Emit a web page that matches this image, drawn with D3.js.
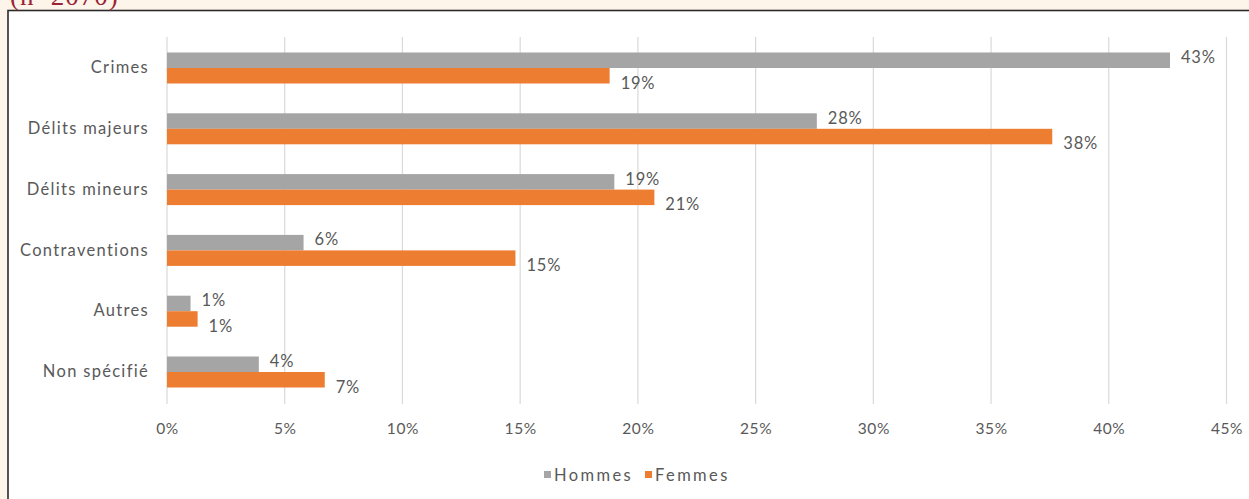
<!DOCTYPE html>
<html>
<head>
<meta charset="utf-8">
<script src="https://cdn.jsdelivr.net/npm/d3@7"></script>
<style>
  html, body { margin: 0; padding: 0; background: #fdf5ea; }
  svg { display: block; }
</style>
</head>
<body>
<svg id="chart" width="1249" height="499"></svg>
<script>
// Répartition des infractions par sexe
const categories = ["Crimes", "Délits majeurs", "Délits mineurs", "Contraventions", "Autres", "Non spécifié"];
const seriesNames = ["Hommes", "Femmes"];
const hommes = [42.6, 27.6, 19.0, 5.8, 1.0, 3.9];
const femmes = [18.8, 37.6, 20.7, 14.8, 1.3, 6.7];
const tickValues = [0, 5, 10, 15, 20, 25, 30, 35, 40, 45];
const subtitle = "(n=2070)";

const colors = { Hommes: "#a5a5a5", Femmes: "#ed7d31" };
const font = "Lato, 'Open Sans', sans-serif";
const textColor = "#595959";

const svg = d3.select("#chart");
const W = 1249, H = 499;

// frame
svg.append("rect").attr("x", 8).attr("y", 10.5).attr("width", W).attr("height", H)
  .attr("fill", "#ffffff").attr("stroke", "#2b2b2b").attr("stroke-width", 1.6);

svg.append("text").attr("x", 10).attr("y", 5)
  .attr("font-family", "'Liberation Serif', 'DejaVu Serif', serif")
  .attr("font-size", 27).attr("letter-spacing", 1).attr("fill", "#9b2335")
  .text(subtitle);

const x = d3.scaleLinear().domain([0, 45]).range([167, 1226.5]);
const y = d3.scaleBand().domain(categories).range([37.6, 402.4])
  .paddingInner(0.49).paddingOuter(0.245);
const ySub = d3.scaleBand().domain(seriesNames).range([0, y.bandwidth()]);

// gridlines
svg.append("g").selectAll("line").data(tickValues).join("line")
  .attr("x1", d => x(d)).attr("x2", d => x(d))
  .attr("y1", 37).attr("y2", 404)
  .attr("stroke", "#d9d9d9").attr("stroke-width", 1.2);

// x axis tick labels
const xAxis = d3.axisBottom(x).tickValues(tickValues).tickSize(0).tickFormat(d => d + "%");
const gx = svg.append("g").attr("transform", "translate(0,420)").call(xAxis);
gx.select(".domain").remove();
gx.selectAll("text").attr("font-family", font).attr("font-size", 15.5)
  .attr("letter-spacing", 0.6).attr("fill", textColor);

// y axis labels
const yAxis = d3.axisLeft(y).tickSize(0).tickPadding(18);
const gy = svg.append("g").attr("transform", "translate(167,0)").call(yAxis);
gy.select(".domain").remove();
gy.selectAll("text").attr("font-family", font).attr("font-size", 16.5)
  .attr("letter-spacing", 1.3).attr("fill", textColor);

// bars
const rows = categories.map((c, i) => ({ cat: c, Hommes: hommes[i], Femmes: femmes[i] }));
const fmt = v => Math.round(v) + "%";

seriesNames.forEach(s => {
  const g = svg.append("g");
  g.selectAll("rect").data(rows).join("rect")
    .attr("x", x(0))
    .attr("y", d => y(d.cat) + ySub(s))
    .attr("width", d => x(d[s]) - x(0))
    .attr("height", ySub.bandwidth())
    .attr("fill", colors[s]);
  g.selectAll("text").data(rows).join("text")
    .attr("x", d => x(d[s]) + 11)
    .attr("y", d => y(d.cat) + ySub(s) + ySub.bandwidth() / 2 + (s === "Hommes" ? -3 : 7))
    .attr("dy", "0.35em")
    .attr("font-family", font).attr("font-size", 16.5).attr("letter-spacing", 0.8)
    .attr("fill", textColor)
    .text(d => fmt(d[s]));
});

// legend
const legend = svg.append("g").attr("transform", "translate(544,475)");
const items = [{ name: "Hommes", x: 0 }, { name: "Femmes", x: 101 }];
items.forEach(it => {
  legend.append("rect").attr("x", it.x).attr("y", -4).attr("width", 7).attr("height", 7)
    .attr("fill", colors[it.name]);
  legend.append("text").attr("x", it.x + 10).attr("y", 0).attr("dy", "0.35em")
    .attr("font-family", font).attr("font-size", 16.5).attr("letter-spacing", 2.4)
    .attr("fill", textColor)
    .text(it.name);
});
</script>
</body>
</html>
